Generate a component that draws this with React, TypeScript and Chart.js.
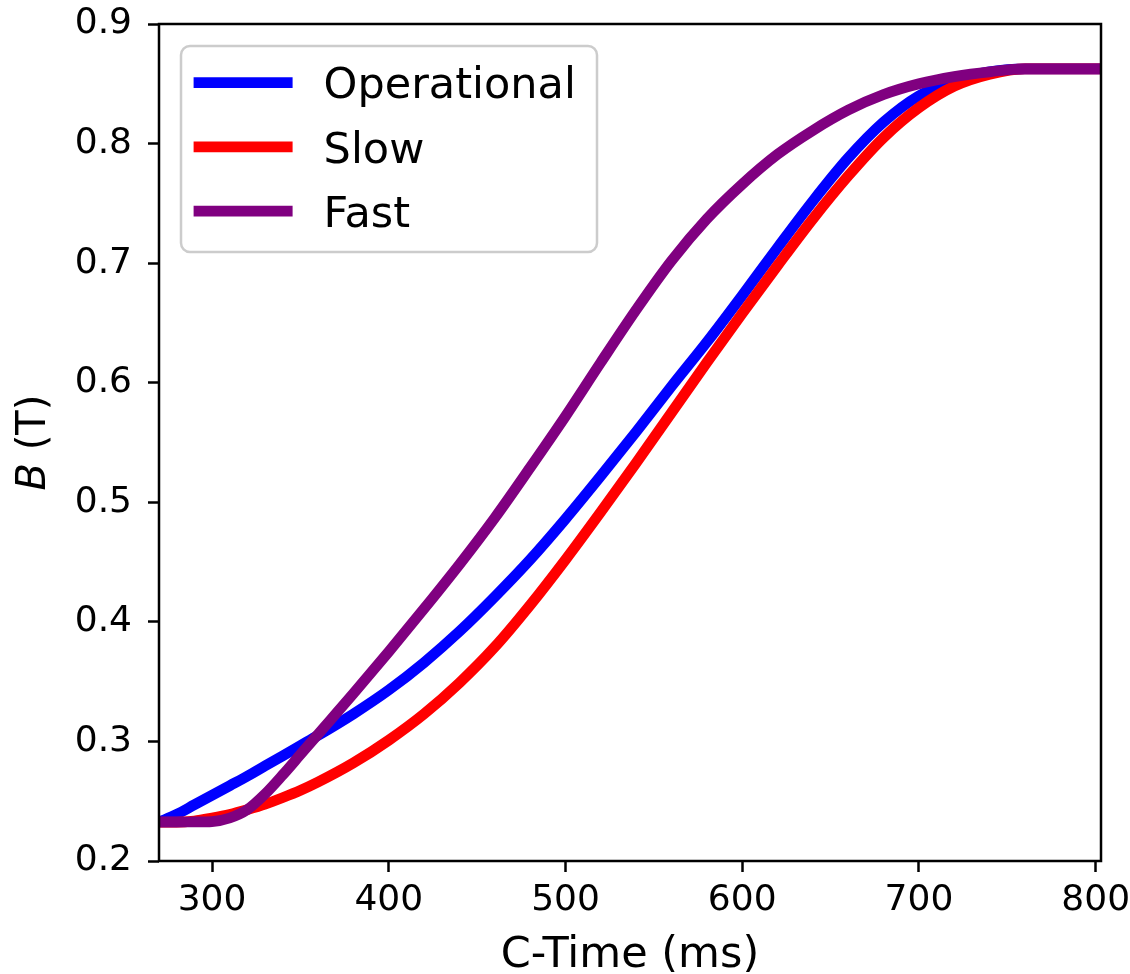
import React, { useEffect, useRef } from "react";
import { Chart, registerables } from "chart.js";

Chart.register(...registerables);

// C-Time sample points (ms)
const cTime = [270, 280, 290, 300, 310, 320, 330, 340, 350, 360, 380, 400, 420, 440, 460, 480, 500, 520, 540, 560, 580, 600, 620, 640, 660, 680, 700, 720, 740, 760, 780, 805];

// Field B (T) for each ramp
const operational = [0.2325, 0.239, 0.247, 0.255, 0.263, 0.271, 0.2795, 0.288, 0.2965, 0.305, 0.323, 0.343, 0.366, 0.392, 0.421, 0.452, 0.486, 0.522, 0.559, 0.597, 0.634, 0.673, 0.713, 0.752, 0.788, 0.818, 0.84, 0.853, 0.86, 0.8625, 0.8625, 0.8625];
const slow = [0.2325, 0.2325, 0.2335, 0.236, 0.239, 0.243, 0.2475, 0.253, 0.259, 0.266, 0.282, 0.301, 0.323, 0.349, 0.379, 0.414, 0.452, 0.492, 0.533, 0.575, 0.617, 0.658, 0.698, 0.737, 0.773, 0.805, 0.83, 0.848, 0.858, 0.8625, 0.8625, 0.8625];
const fast = [0.2325, 0.2325, 0.2327, 0.233, 0.236, 0.243, 0.256, 0.272, 0.289, 0.306, 0.34, 0.375, 0.411, 0.448, 0.487, 0.529, 0.572, 0.617, 0.661, 0.702, 0.737, 0.766, 0.791, 0.811, 0.828, 0.841, 0.85, 0.856, 0.86, 0.8625, 0.8625, 0.8625];

const seriesLabels = ["Operational", "Slow", "Fast"];
const seriesColors = ["#0000ff", "#ff0000", "#800080"];

const xTicks = [300, 400, 500, 600, 700, 800];
const yTicks = [0.2, 0.3, 0.4, 0.5, 0.6, 0.7, 0.8, 0.9];

const xTitle = "C-Time (ms)";
const yTitleSymbol = "B";
const yTitleUnit = " (T)";

const FONT = "'DejaVu Sans', 'Liberation Sans', sans-serif";
const TICK_SIZE = 36;
const X_TITLE_SIZE = 43;
const Y_TITLE_SIZE = 40;
const LEGEND_SIZE = 43;

function roundedRect(ctx: CanvasRenderingContext2D, x: number, y: number, w: number, h: number, r: number) {
  ctx.beginPath();
  ctx.moveTo(x + r, y);
  ctx.lineTo(x + w - r, y);
  ctx.arcTo(x + w, y, x + w, y + r, r);
  ctx.lineTo(x + w, y + h - r);
  ctx.arcTo(x + w, y + h, x + w - r, y + h, r);
  ctx.lineTo(x + r, y + h);
  ctx.arcTo(x, y + h, x, y + h - r, r);
  ctx.lineTo(x, y + r);
  ctx.arcTo(x, y, x + r, y, r);
  ctx.closePath();
}

// Axes frame, inset legend and axis titles
const decorPlugin = {
  id: "decor",
  afterDatasetsDraw(chart: any) {
    const ctx: CanvasRenderingContext2D = chart.ctx;
    const a = chart.chartArea;
    ctx.save();

    // full box around the plot area
    ctx.strokeStyle = "#000";
    ctx.lineWidth = 2.5;
    ctx.strokeRect(a.left, a.top, a.right - a.left, a.bottom - a.top);

    // legend
    const bx = a.left + 22;
    const by = a.top + 22;
    const bw = 416;
    const bh = 206;
    roundedRect(ctx, bx, by, bw, bh, 9);
    ctx.fillStyle = "rgba(255,255,255,0.8)";
    ctx.fill();
    ctx.strokeStyle = "#cccccc";
    ctx.lineWidth = 2.5;
    ctx.stroke();

    ctx.font = `${LEGEND_SIZE}px ${FONT}`;
    ctx.textAlign = "left";
    ctx.textBaseline = "alphabetic";
    chart.data.datasets.forEach((ds: any, i: number) => {
      const ly = by + 36.7 + i * 64.2;
      ctx.strokeStyle = ds.borderColor;
      ctx.lineWidth = 10.7;
      ctx.lineCap = "butt";
      ctx.beginPath();
      ctx.moveTo(bx + 12.6, ly);
      ctx.lineTo(bx + 111.6, ly);
      ctx.stroke();
      ctx.fillStyle = "#000";
      ctx.fillText(ds.label, bx + 142.6, ly + 0.3645 * LEGEND_SIZE);
    });

    // x title
    ctx.fillStyle = "#000";
    ctx.font = `${X_TITLE_SIZE}px ${FONT}`;
    ctx.textAlign = "center";
    ctx.textBaseline = "alphabetic";
    ctx.fillText(xTitle, (a.left + a.right) / 2, 967);

    // y title, italic symbol followed by upright unit
    ctx.save();
    const cy = (a.top + a.bottom) / 2;
    ctx.translate(45, cy);
    ctx.rotate(-Math.PI / 2);
    const italic = `italic ${Y_TITLE_SIZE}px ${FONT}`;
    const upright = `${Y_TITLE_SIZE}px ${FONT}`;
    ctx.font = italic;
    const w1 = ctx.measureText(yTitleSymbol).width;
    ctx.font = upright;
    const w2 = ctx.measureText(yTitleUnit).width;
    const start = -(w1 + w2) / 2;
    ctx.textAlign = "left";
    ctx.font = italic;
    ctx.fillText(yTitleSymbol, start, 0);
    ctx.font = upright;
    ctx.fillText(yTitleUnit, start + w1, 0);
    ctx.restore();

    ctx.restore();
  },
};

export default function App() {
  const canvasRef = useRef<HTMLCanvasElement | null>(null);

  useEffect(() => {
    const canvas = canvasRef.current;
    if (!canvas) return;
    const series = [operational, slow, fast];
    const chart = new Chart(canvas, {
      type: "line",
      data: {
        datasets: series.map((vals, i) => ({
          label: seriesLabels[i],
          data: cTime.map((t, k) => ({ x: t, y: vals[k] })),
          borderColor: seriesColors[i],
          backgroundColor: seriesColors[i],
          borderWidth: 10.7,
          pointRadius: 0,
          fill: false,
          cubicInterpolationMode: "monotone" as const,
          borderJoinStyle: "round" as const,
          clip: 0,
          order: 3 - i,
        })),
      },
      options: {
        animation: false,
        responsive: false,
        devicePixelRatio: 1,
        layout: { padding: { top: 24, right: 29, left: 0, bottom: 0 } },
        plugins: {
          legend: { display: false },
          tooltip: { enabled: false },
        },
        scales: {
          x: {
            type: "linear",
            min: 270,
            max: 803,
            afterBuildTicks: (s: any) => {
              s.ticks = xTicks.map((v) => ({ value: v }));
            },
            afterFit: (s: any) => {
              s.height = 113;
              s.paddingLeft = 0;
              s.paddingRight = 0;
              s.paddingTop = 0;
              s.paddingBottom = 0;
            },
            grid: {
              drawOnChartArea: false,
              drawTicks: true,
              tickLength: 11,
              tickWidth: 2.5,
              tickColor: "#000",
            },
            border: { display: false },
            ticks: {
              font: { family: FONT, size: TICK_SIZE },
              color: "#000",
              padding: 7,
              maxRotation: 0,
              callback: (v: any) => String(v),
            },
          },
          y: {
            type: "linear",
            min: 0.2,
            max: 0.9,
            afterBuildTicks: (s: any) => {
              s.ticks = yTicks.map((v) => ({ value: v }));
            },
            afterFit: (s: any) => {
              s.width = 159;
              s.paddingLeft = 0;
              s.paddingRight = 0;
              s.paddingTop = 0;
              s.paddingBottom = 0;
            },
            grid: {
              drawOnChartArea: false,
              drawTicks: true,
              tickLength: 11,
              tickWidth: 2.5,
              tickColor: "#000",
            },
            border: { display: false },
            ticks: {
              font: { family: FONT, size: TICK_SIZE },
              color: "#000",
              padding: 16,
              callback: (v: any) => Number(v).toFixed(1),
            },
          },
        },
      },
      plugins: [decorPlugin],
    });
    return () => chart.destroy();
  }, []);

  return (
    <div style={{ position: "absolute", left: 0, top: 0, width: 1130, height: 974, background: "#fff" }}>
      <canvas ref={canvasRef} width={1130} height={974} style={{ display: "block" }} />
    </div>
  );
}
